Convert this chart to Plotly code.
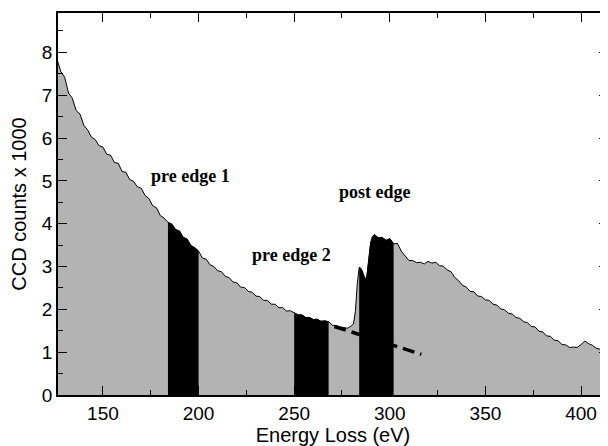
import plotly.graph_objects as go

# Spectrum (energy in eV, counts in thousands)
energy = [126, 128, 130, 132, 134, 136, 138, 140, 142, 144, 146, 148, 150, 152, 154, 156, 158, 160,
          162, 164, 166, 168, 170, 172, 174, 176, 178, 180, 182, 184, 186, 188, 190, 192, 194, 196,
          198, 200, 202, 204, 206, 208, 210, 212, 214, 216, 218, 220, 222, 224, 226, 228, 230, 232,
          234, 236, 238, 240, 242, 244, 246, 248, 250, 252, 254, 256, 258, 260, 262, 264, 266, 268,
          270, 272, 274, 276, 278, 280, 281, 282, 283, 284, 285, 286, 287, 288, 289, 290, 291, 292,
          294, 296, 298, 300, 302, 304, 306, 308, 310, 312, 314, 316, 318, 320, 322, 324, 326, 328,
          330, 332, 334, 336, 338, 340, 342, 344, 346, 348, 350, 352, 354, 356, 358, 360, 362, 364,
          366, 368, 370, 372, 374, 376, 378, 380, 382, 384, 386, 388, 390, 392, 394, 396, 398, 400,
          402, 404, 406, 408, 410, 412, 414]
counts = [7.84, 7.55, 7.42, 7.05, 6.93, 6.64, 6.56, 6.30, 6.19, 6.02, 5.96, 5.82, 5.79, 5.62, 5.60,
          5.43, 5.41, 5.22, 5.20, 5.03, 4.99, 4.86, 4.83, 4.66, 4.59, 4.42, 4.37, 4.19, 4.13, 4.03,
          3.99, 3.86, 3.83, 3.68, 3.64, 3.49, 3.44, 3.36, 3.20, 3.17, 3.04, 3.00, 2.90, 2.88, 2.77,
          2.74, 2.64, 2.62, 2.52, 2.51, 2.42, 2.40, 2.31, 2.30, 2.21, 2.21, 2.12, 2.12, 2.04, 2.04,
          1.96, 1.97, 1.92, 1.87, 1.87, 1.81, 1.81, 1.76, 1.77, 1.72, 1.73, 1.71, 1.63, 1.62, 1.59,
          1.58, 1.56, 1.62, 1.66, 1.95, 2.60, 2.98, 2.95, 2.84, 2.70, 2.76, 3.20, 3.55, 3.70, 3.74,
          3.67, 3.68, 3.61, 3.65, 3.53, 3.54, 3.36, 3.24, 3.14, 3.14, 3.09, 3.10, 3.06, 3.12, 3.08,
          3.10, 3.02, 3.01, 2.92, 2.88, 2.74, 2.67, 2.56, 2.52, 2.42, 2.41, 2.31, 2.30, 2.22, 2.21,
          2.12, 2.10, 2.01, 1.99, 1.91, 1.89, 1.81, 1.79, 1.71, 1.69, 1.60, 1.59, 1.49, 1.47, 1.38,
          1.37, 1.28, 1.27, 1.18, 1.17, 1.11, 1.12, 1.11, 1.18, 1.26, 1.20, 1.16, 1.09, 1.07, 1.01,
          0.99]

# Integration windows (eV)
windows = [(184, 200), (250, 268), (284, 302)]

# Background extrapolation (dashed)
bg_energy = [271, 316.5]
bg_counts = [1.60, 0.95]

labels = ["pre edge 1", "pre edge 2", "post edge"]
label_energy = [196, 248.6, 292.3]
label_counts = [5.12, 3.27, 4.74]

fig = go.Figure()
fig.add_trace(go.Scatter(x=energy, y=counts, mode="lines", fill="tozeroy",
                         fillcolor="#b3b3b3", line=dict(color="black", width=1),
                         showlegend=False, hoverinfo="skip"))
for lo, hi in windows:
    xs = [e for e in energy if lo <= e <= hi]
    ys = [c for e, c in zip(energy, counts) if lo <= e <= hi]
    fig.add_trace(go.Scatter(x=xs, y=ys, mode="lines", fill="tozeroy",
                             fillcolor="black", line=dict(color="black", width=1),
                             showlegend=False, hoverinfo="skip"))
fig.add_trace(go.Scatter(x=bg_energy, y=bg_counts, mode="lines",
                         line=dict(color="black", width=3.5, dash="12px,6px"),
                         showlegend=False, hoverinfo="skip"))
for t, xe, yc in zip(labels, label_energy, label_counts):
    fig.add_annotation(x=xe, y=yc, text="<b>" + t + "</b>", showarrow=False,
                       font=dict(family="Liberation Serif", size=18, color="black"))

axis_common = dict(showline=True, linecolor="black", linewidth=1.6, mirror="ticks",
                   ticks="inside", tickcolor="black", tickwidth=1.3, ticklen=9,
                   showgrid=False, zeroline=False, automargin=False,
                   tickfont=dict(family="Liberation Sans", size=19, color="black"))
fig.update_xaxes(range=[126.5, 414.1], dtick=50, tick0=0,
                 minor=dict(dtick=25, tick0=0, ticks="inside", ticklen=5, tickcolor="black", tickwidth=1.2),
                 title=dict(text="Energy Loss (eV)", standoff=2,
                            font=dict(family="Liberation Sans", size=20, color="black")),
                 **axis_common)
fig.update_yaxes(range=[0, 8.92], dtick=1, tick0=0,
                 minor=dict(dtick=0.5, tick0=0, ticks="inside", ticklen=5, tickcolor="black", tickwidth=1.2),
                 title=dict(text="CCD counts x 1000", standoff=10,
                            font=dict(family="Liberation Sans", size=20, color="black")),
                 **axis_common)
# the page body adds an 8 px offset, so the figure is sized to end at the window edge
fig.update_layout(width=600, height=438, margin=dict(l=50, r=0, t=5, b=51),
                  plot_bgcolor="white", paper_bgcolor="white")
fig.write_html("out.html")
